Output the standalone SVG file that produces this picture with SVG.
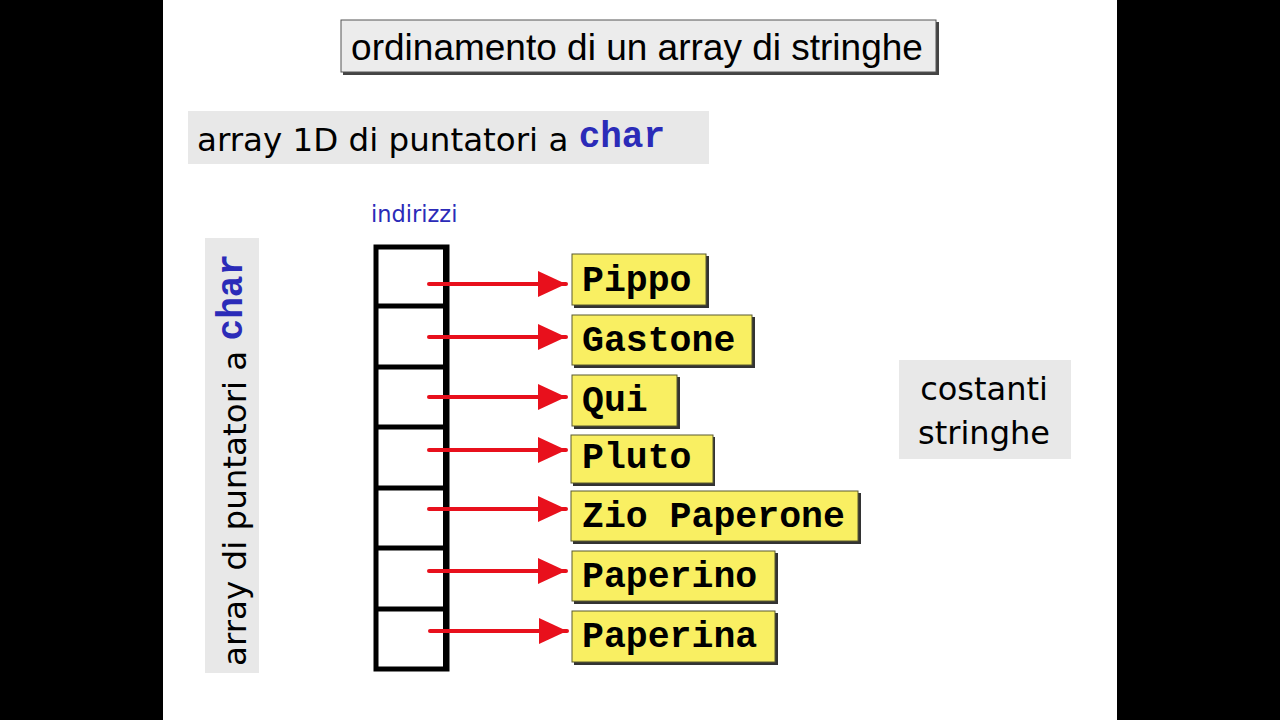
<svg xmlns="http://www.w3.org/2000/svg" width="1280" height="720" viewBox="0 0 1280 720">
<defs>
<style>
.box{fill:#e8e8e8}
.sans{font-family:"DejaVu Sans","Verdana",sans-serif;fill:#000}
.mono{font-family:"Liberation Mono","Courier New",monospace;font-weight:bold}
.blue{fill:#2b2bb8}
.ybox{fill:#f9ef62;stroke:#5a5a30;stroke-width:1}
.yshadow{fill:#333}
.ytext{font-family:"Liberation Mono","Courier New",monospace;font-weight:bold;font-size:36.5px;fill:#000}
.arrow{stroke:#e8101c;stroke-width:4;stroke-linecap:round}
</style>
<marker id="ah" markerWidth="30" markerHeight="28" refX="28" refY="13" orient="auto" markerUnits="userSpaceOnUse">
<path d="M0,0 L28,13 L0,26 Z" fill="#e8101c"/>
</marker>
</defs>
<rect x="0" y="0" width="1280" height="720" fill="#000"/>
<rect x="163" y="0" width="954" height="720" fill="#fff"/>

<g id="title">
<rect x="343" y="22" width="596" height="53" fill="#444"/>
<rect x="341" y="20" width="595" height="52" fill="#ececec" stroke="#555" stroke-width="1"/>
<text x="637" y="60" text-anchor="middle" font-family="Liberation Sans, Arial, sans-serif" font-size="37">ordinamento di un array di stringhe</text>
</g>

<g id="subtitle">
<rect class="box" x="188" y="111" width="521" height="53"/>
<text class="sans" x="197" y="151" font-size="32.5">array 1D di puntatori a <tspan class="mono blue" font-size="36" dy="-4">char</tspan></text>
</g>

<g id="vertical-label">
<rect class="box" x="205" y="238" width="54" height="435"/>
<text class="sans" transform="translate(246,666) rotate(-90)" x="0" y="0" font-size="32.5">array di puntatori a <tspan class="mono blue" font-size="36" dy="-4">char</tspan></text>
</g>

<g id="indirizzi">
<text class="sans blue" x="371" y="222" font-size="22.5">indirizzi</text>
</g>

<g id="array">
<rect x="376" y="247" width="71" height="422" fill="#fff" stroke="#000" stroke-width="5"/>
<line x1="446" y1="245" x2="446" y2="671" stroke="#000" stroke-width="6"/>
<g stroke="#000" stroke-width="5">
<line x1="374" y1="306" x2="449" y2="306"/>
<line x1="374" y1="367" x2="449" y2="367"/>
<line x1="374" y1="427" x2="449" y2="427"/>
<line x1="374" y1="488" x2="449" y2="488"/>
<line x1="374" y1="548" x2="449" y2="548"/>
<line x1="374" y1="609" x2="449" y2="609"/>
</g>
</g>

<g id="connectors">
<line class="arrow" x1="429" y1="284" x2="566" y2="284" marker-end="url(#ah)"/>
<line class="arrow" x1="429" y1="337" x2="566" y2="337" marker-end="url(#ah)"/>
<line class="arrow" x1="429" y1="397" x2="566" y2="397" marker-end="url(#ah)"/>
<line class="arrow" x1="429" y1="450" x2="566" y2="450" marker-end="url(#ah)"/>
<line class="arrow" x1="429" y1="509" x2="566" y2="509" marker-end="url(#ah)"/>
<line class="arrow" x1="429" y1="571" x2="566" y2="571" marker-end="url(#ah)"/>
<line class="arrow" x1="430" y1="631" x2="567" y2="631" marker-end="url(#ah)"/>
</g>

<g id="s-pippo">
<rect class="yshadow" x="574" y="256" width="135" height="52"/>
<rect class="ybox" x="572" y="254" width="134" height="51"/>
<text class="ytext" x="582" y="291">Pippo</text>
</g>
<g id="s-gastone">
<rect class="yshadow" x="574" y="317" width="181" height="51"/>
<rect class="ybox" x="572" y="315" width="180" height="50"/>
<text class="ytext" x="582" y="351">Gastone</text>
</g>
<g id="s-qui">
<rect class="yshadow" x="574" y="377" width="106" height="52"/>
<rect class="ybox" x="572" y="375" width="105" height="51"/>
<text class="ytext" x="582" y="411">Qui</text>
</g>
<g id="s-pluto">
<rect class="yshadow" x="573" y="437" width="142" height="49"/>
<rect class="ybox" x="571" y="435" width="142" height="48"/>
<text class="ytext" x="582" y="468">Pluto</text>
</g>
<g id="s-zio">
<rect class="yshadow" x="573" y="493" width="288" height="51"/>
<rect class="ybox" x="571" y="491" width="287" height="50"/>
<text class="ytext" x="582" y="527">Zio Paperone</text>
</g>
<g id="s-paperino">
<rect class="yshadow" x="574" y="553" width="204" height="51"/>
<rect class="ybox" x="572" y="551" width="203" height="50"/>
<text class="ytext" x="582" y="587">Paperino</text>
</g>
<g id="s-paperina">
<rect class="yshadow" x="574" y="613" width="204" height="52"/>
<rect class="ybox" x="572" y="611" width="203" height="51"/>
<text class="ytext" x="582" y="647">Paperina</text>
</g>

<g id="costanti">
<rect class="box" x="899" y="360" width="172" height="99"/>
<text class="sans" x="984" y="400" font-size="32" text-anchor="middle">costanti</text>
<text class="sans" x="984" y="444" font-size="32" text-anchor="middle">stringhe</text>
</g>
</svg>
